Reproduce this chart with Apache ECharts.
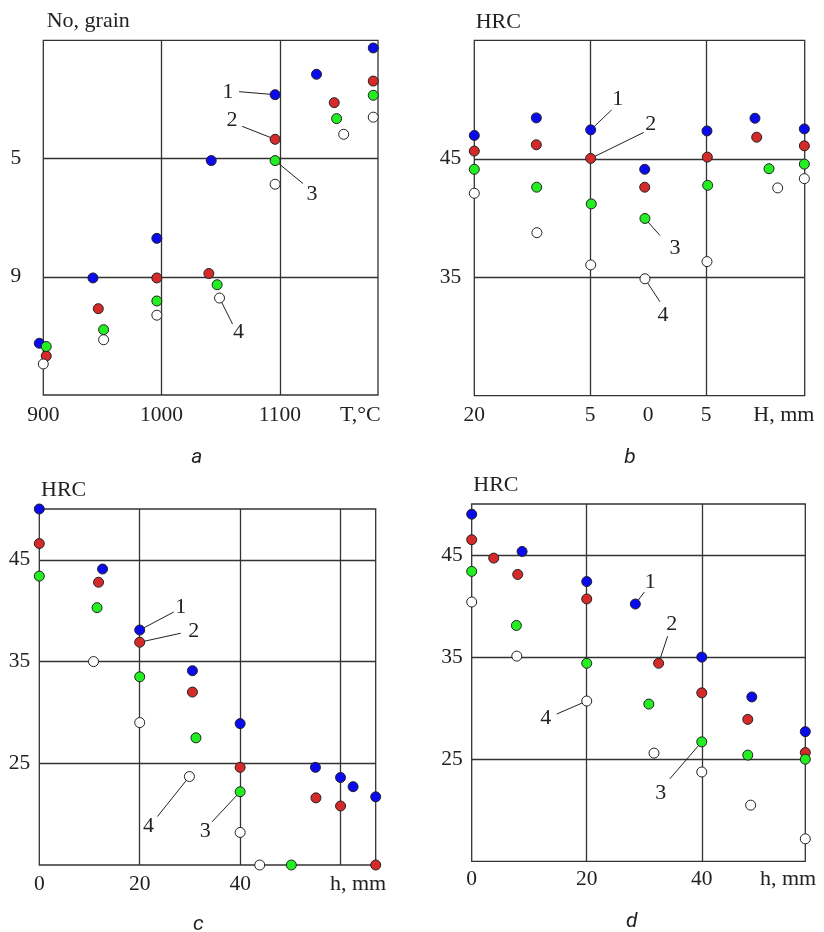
<!DOCTYPE html>
<html><head><meta charset="utf-8">
<script src="https://cdn.jsdelivr.net/npm/echarts@6/dist/echarts.min.js"></script>
<style>html,body{margin:0;padding:0;background:#fff}#c{width:824px;height:932px}</style>
</head><body><div id="c"></div>
<script>
// ---------- Panel a: grain number vs T, °C ----------
const aS1 = [[896.6,11.25],[942,9.04],[996,7.70],[1042,5.07],[1096,2.84],[1131,2.15],[1179,1.26]];
const aS2 = [[902.5,11.68],[946.5,10.08],[996,9.04],[1040,8.89],[1096,4.35],[1146,3.11],[1179,2.38]];
const aS3 = [[902.5,11.36],[951,10.79],[996,9.82],[1047,9.27],[1096,5.07],[1148,3.65],[1179,2.86]];
const aS4 = [[900,11.95],[951,11.13],[996,10.30],[1049,9.72],[1096,5.87],[1154,4.18],[1179,3.60]];
const aXTicks = [900,1000,1100], aXLabels = ['900','1000','1100'];
const aYTicks = [5,9], aYLabels = ['5','9'];
const aGridX = [1000,1100], aGridY = [5,9];

// ---------- Panel b: HRC vs H, mm ----------
const bS1 = [[-15,46.97],[-9.65,48.45],[-4.96,47.44],[-0.3,44.11],[5.07,47.35],[9.21,48.42],[13.47,47.52]];
const bS2 = [[-15,45.65],[-9.65,46.18],[-4.96,45.03],[-0.3,42.6],[5.1,45.14],[9.36,46.82],[13.47,46.09]];
const bS3 = [[-15,44.11],[-9.62,42.6],[-4.91,41.19],[-0.28,39.96],[5.13,42.76],[10.42,44.16],[13.47,44.55]];
const bS4 = [[-15,42.09],[-9.6,38.76],[-4.96,36.04],[-0.28,34.87],[5.07,36.32],[11.17,42.54],[13.47,43.32]];
const bXTicks = [-15,-5,0,5], bXLabels = ['20','5','0','5'];
const bYTicks = [35,45], bYLabels = ['35','45'];
const bGridX = [-5,5], bGridY = [35,45];

// ---------- Panel c: HRC vs h, mm ----------
const cS1 = [[0,50],[12.6,44.1],[20,38.1],[30.5,34.1],[40,28.9],[55,24.6],[60,23.6],[62.5,22.7],[67,21.7]];
const cS2 = [[0,46.6],[11.8,42.8],[20,36.9],[30.5,32.0],[40,24.6],[55.1,21.6],[60,20.8],[67,15]];
const cS3 = [[0,43.4],[11.5,40.3],[20,33.5],[31.2,27.5],[40,22.2],[50.2,15]];
const cS4 = [[10.8,35],[20,29],[29.9,23.7],[40,18.2],[43.9,15]];
const cXTicks = [0,20,40], cXLabels = ['0','20','40'];
const cYTicks = [25,35,45], cYLabels = ['25','35','45'];
const cGridX = [20,40,60], cGridY = [25,35,45];

// ---------- Panel d: HRC vs h, mm ----------
const dS1 = [[0,49.0],[8.76,45.35],[20,42.4],[28.45,40.2],[40,35.0],[48.7,31.1],[58,27.7]];
const dS2 = [[0,46.5],[3.83,44.7],[8.0,43.1],[20,40.7],[32.5,34.4],[40,31.5],[48.0,28.9],[58,25.65]];
const dS3 = [[0,43.4],[7.77,38.1],[20,34.4],[30.8,30.4],[40,26.7],[48.0,25.4],[58,25.0]];
const dS4 = [[0,40.4],[7.84,35.1],[20,30.7],[31.7,25.6],[40,23.75],[48.5,20.5],[58,17.2]];
const dXTicks = [0,20,40], dXLabels = ['0','20','40'];
const dYTicks = [25,35,45], dYLabels = ['25','35','45'];
const dGridX = [20,40], dGridY = [25,35,45];

// ---------- curve number callouts (point reference + pixel offsets) ----------
const aNotes = [
  {s:aS1,i:4,t:'1',lx:-36,ly:-3,tx:-47,ty:-2},
  {s:aS2,i:4,t:'2',lx:-33,ly:-13,tx:-43,ty:-19},
  {s:aS3,i:4,t:'3',lx:28,ly:23,tx:37,ty:34},
  {s:aS4,i:3,t:'4',lx:13,ly:26,tx:19,ty:34}
];
const bNotes = [
  {s:bS1,i:2,t:'1',lx:21,ly:-20,tx:27,ty:-31},
  {s:bS2,i:2,t:'2',lx:53,ly:-26,tx:60,ty:-34},
  {s:bS3,i:3,t:'3',lx:15,ly:17,tx:30,ty:30},
  {s:bS4,i:3,t:'4',lx:15,ly:23,tx:18,ty:36}
];
const cNotes = [
  {s:cS1,i:2,t:'1',lx:34,ly:-18,tx:41,ty:-23},
  {s:cS2,i:2,t:'2',lx:41,ly:-9,tx:54,ty:-11},
  {s:cS4,i:2,t:'4',lx:-32,ly:40,tx:-41,ty:50},
  {s:cS3,i:4,t:'3',lx:-28,ly:30,tx:-35,ty:39}
];
const dNotes = [
  {s:dS1,i:3,t:'1',lx:9,ly:-12,tx:15,ty:-22},
  {s:dS2,i:4,t:'2',lx:9,ly:-27,tx:13,ty:-39},
  {s:dS4,i:2,t:'4',lx:-30,ly:13,tx:-41,ty:17},
  {s:dS3,i:4,t:'3',lx:-32,ly:37,tx:-41,ty:51}
];

const SERIF = '"Liberation Serif","Times New Roman",serif';
const INK = '#222';
const COLORS = ['#0a0aee','#d42a2a','#22ee22','#ffffff'];

const grids = [
  {left:43.3, top:40.3, width:334.7, height:354.7},
  {left:474.3, top:40.3, width:330.4, height:355.4},
  {left:39.3, top:509, width:336.4, height:356},
  {left:471.7, top:504, width:333.6, height:357.3}
].map(g => Object.assign(g, {show:true, borderColor:'#333', borderWidth:1.3, backgroundColor:'transparent', containLabel:false}));

function fmt(ticks, labels){
  return v => { const k = ticks.findIndex(t => Math.abs(t - v) < 1e-6); return k < 0 ? '' : labels[k]; };
}
function xAx(idx, min, max, interval, ticks, labels, margin){
  return {type:'value', gridIndex:idx, min, max, interval,
    axisLine:{show:false}, axisTick:{show:false}, splitLine:{show:false},
    axisLabel:{margin, fontFamily:SERIF, fontSize:21.5, color:INK, formatter:fmt(ticks, labels), showMinLabel:true, showMaxLabel:true}};
}
function yAx(idx, min, max, interval, ticks, labels, margin, inverse){
  return {type:'value', gridIndex:idx, min, max, interval, inverse:!!inverse,
    axisLine:{show:false}, axisTick:{show:false}, splitLine:{show:false},
    axisLabel:{margin, fontFamily:SERIF, fontSize:21.5, color:INK, formatter:fmt(ticks, labels), showMinLabel:true, showMaxLabel:true}};
}

const xAxes = [
  xAx(0, 900, 1183, 100, aXTicks, aXLabels, 9),
  xAx(1, -15, 13.5, 5, bXTicks, bXLabels, 9),
  xAx(2, 0, 67, 20, cXTicks, cXLabels, 8),
  xAx(3, 0, 58, 20, dXTicks, dXLabels, 7)
];
const yAxes = [
  yAx(0, 1, 13, 4, aYTicks, aYLabels, 22, true),
  yAx(1, 25, 55, 10, bYTicks, bYLabels, 13),
  yAx(2, 15, 50, 10, cYTicks, cYLabels, 9),
  yAx(3, 15, 50, 10, dYTicks, dYLabels, 9)
];

function gridLines(idx, gx, gy){
  return {type:'scatter', xAxisIndex:idx, yAxisIndex:idx, data:[], silent:true,
    markLine:{z:1, silent:true, symbol:['none','none'], animation:false, label:{show:false},
      lineStyle:{color:'#333', width:1.3, type:'solid'},
      data:[...gx.map(v => ({xAxis:v})), ...gy.map(v => ({yAxis:v}))]}};
}
function pts(idx, data, k){
  return {type:'scatter', xAxisIndex:idx, yAxisIndex:idx, data, z:3, clip:false,
    symbol:'circle', symbolSize:10, animation:false,
    itemStyle:{color:COLORS[k], borderColor:'#222', borderWidth:1, opacity:1}};
}
function notes(idx, list){
  return {type:'custom', xAxisIndex:idx, yAxisIndex:idx, z:2, clip:false, silent:true, animation:false,
    data: list.map(n => n.s[n.i]),
    renderItem:(params, api) => {
      const n = list[params.dataIndex];
      const p = api.coord([api.value(0), api.value(1)]);
      return {type:'group', children:[
        {type:'line', shape:{x1:p[0], y1:p[1], x2:p[0]+n.lx, y2:p[1]+n.ly}, style:{stroke:INK, lineWidth:1}},
        {type:'text', style:{text:n.t, x:p[0]+n.tx, y:p[1]+n.ty, align:'center', verticalAlign:'middle',
          font:'22px ' + SERIF, fill:INK}}
      ]};
    }};
}

const series = [
  gridLines(0, aGridX, aGridY), gridLines(1, bGridX, bGridY), gridLines(2, cGridX, cGridY), gridLines(3, dGridX, dGridY),
  notes(0, aNotes), notes(1, bNotes), notes(2, cNotes), notes(3, dNotes)
];
[[aS1,aS2,aS3,aS4],[bS1,bS2,bS3,bS4],[cS1,cS2,cS3,cS4],[dS1,dS2,dS3,dS4]].forEach((set, idx) => {
  set.forEach((d, k) => series.push(pts(idx, d, k)));
});

function txt(x, y, s, opts){
  return Object.assign({type:'text', x, y, silent:true,
    style:Object.assign({text:s, font:'22px ' + SERIF, fill:INK, align:'left', verticalAlign:'middle'}, opts || {})});
}
const LETTER = {font:'italic 21px Roboto, "Noto Sans", sans-serif', align:'center'};
const graphic = [
  txt(46.7, 21.7, 'No, grain'),
  txt(475.7, 22, 'HRC'),
  txt(41, 490, 'HRC'),
  txt(473.3, 485, 'HRC'),
  txt(340, 415, 'T,°C'),
  txt(753.3, 415, 'H, mm'),
  txt(330, 884, 'h, mm'),
  txt(760, 879.3, 'h, mm'),
  txt(196.7, 458, 'a', LETTER),
  txt(630, 458, 'b', LETTER),
  txt(198.3, 924.3, 'c', LETTER),
  txt(631.7, 921.7, 'd', LETTER)
];

const chart = echarts.init(document.getElementById('c'), null, {renderer:'canvas'});
chart.setOption({animation:false, backgroundColor:'#fff', grid:grids, xAxis:xAxes, yAxis:yAxes, series, graphic});
</script>
</body></html>
